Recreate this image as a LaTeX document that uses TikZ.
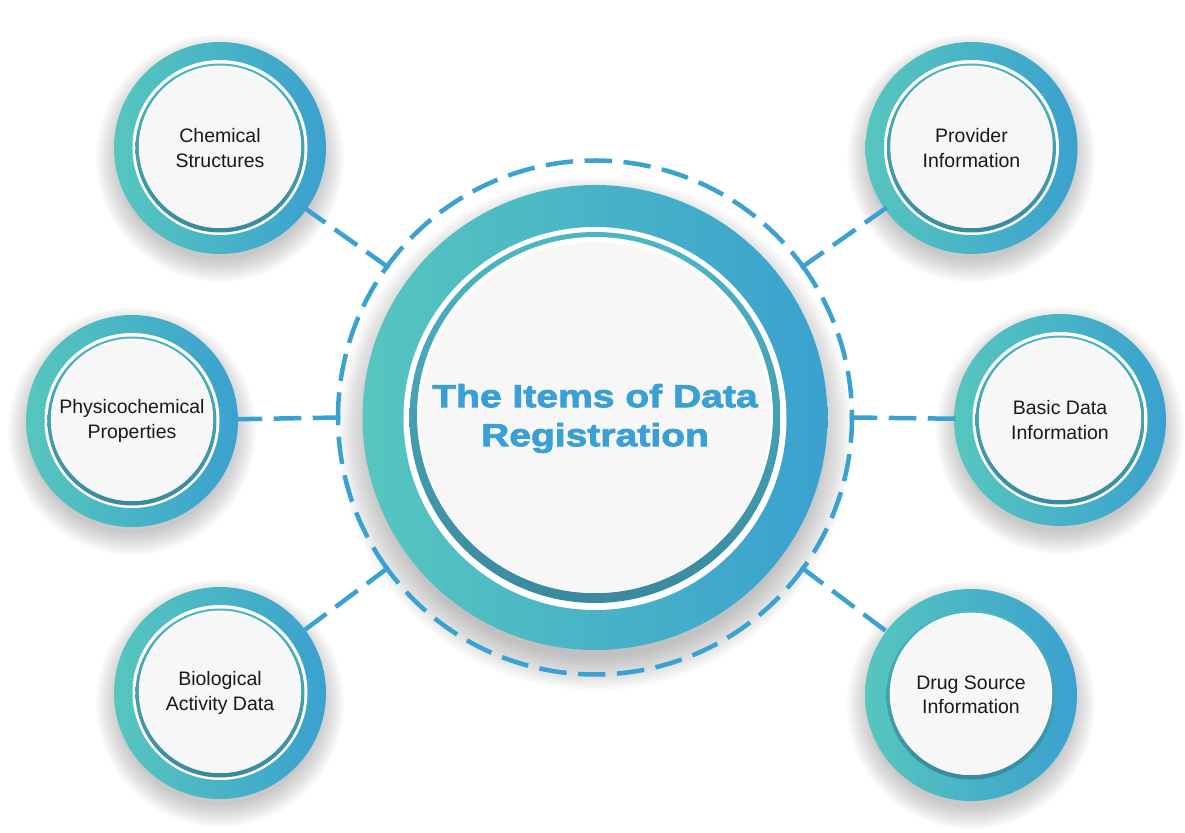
\documentclass[tikz,border=0pt]{standalone}
\usepackage{fontspec}
\setmainfont{Liberation Sans}
\newfontfamily\titlefont[FakeStretch=1.22,FakeBold=2.5]{Liberation Sans Bold}
\usepackage{tikz}
\usetikzlibrary{shapes}
\definecolor{ringL}{HTML}{56C6BE}
\definecolor{ringR}{HTML}{3AA1CF}
\definecolor{rimT}{HTML}{4DB6C4}
\definecolor{rimB}{HTML}{3A8A9F}
\definecolor{disk}{HTML}{F7F7F7}
\definecolor{linkblue}{HTML}{3AA2D2}
\definecolor{titleblue}{HTML}{3A9FD4}
\tikzstyle{ring} = [circle, inner sep=0pt, outer sep=0pt, left color=ringL, right color=ringR]
\tikzstyle{rim} = [top color=rimT, bottom color=rimB]
\tikzstyle{softshadow} = [fill=black, opacity=0.02]
\tikzstyle{itemtext} = [align=center, text=black!90, font=\fontsize{19.5}{24.5}\selectfont]
\tikzstyle{link} = [draw=linkblue, line width=4.5pt, dash pattern=on 23pt off 16pt, line cap=rect]

\newcommand{\satellite}[4]{%
  \begin{scope}[shift={#2}]
    \foreach \k in {1,...,12} \fill[softshadow] (0,-10) circle (100+2*\k);
    \node[ring, minimum size=212pt] (#1) at (0,0) {};
    \path[fill=#4] (0,0.5) circle (87.5);
    \shade[rim] (0,0) circle (84.5);
    \fill[white] (0,1.2) circle (81.2);
    \fill[disk] (0,0) circle (80);
    \node[itemtext] (#1-text) at (0,0) {#3};
  \end{scope}}

\begin{document}
\begin{tikzpicture}[x=1pt,y=1pt]
  \useasboundingbox (-595,-414.5) rectangle (590,417.5);

  \foreach \k in {1,...,14} \fill[softshadow] (0,-16) circle (222+2.5*\k);
  \node[ring, minimum size=465pt] (items) at (0,0) {};
  \fill[white] (0,-1) circle (191.5);
  \shade[rim] (0,0) circle (185.5);
  \fill[white] (0,2.5) circle (178);
  \fill[disk] (0,0) circle (175.5);
  \node[font=\titlefont\fontsize{32}{39}\selectfont, text=titleblue, align=center] (title) at (0,-1) {The Items of Data\\Registration};

  \satellite{chem}{(-375,269.5)}{Chemical\\Structures}{white}
  \satellite{phys}{(-463,-3.5)}{Physicochemical\\Properties}{white}
  \satellite{bio}{(-375,-275.5)}{Biological\\Activity Data}{white}
  \satellite{prov}{(376.5,269.5)}{Provider\\Information}{white}
  \satellite{basic}{(465,-2.5)}{Basic Data\\Information}{white}
  \satellite{drug}{(376,-277.5)}{Drug Source\\Information}{none}

  \foreach \n/\a/\b in {phys/180/144, chem/144/36, prov/36/0, basic/0/-36, drug/-36/-144, bio/216/180} {
    \coordinate (k-\n) at (\a:257);
    \draw[link] (k-\n) arc[start angle=\a, end angle=\b, radius=257];
    \draw[link] (k-\n) -- (\n);
  }
\end{tikzpicture}
\end{document}
